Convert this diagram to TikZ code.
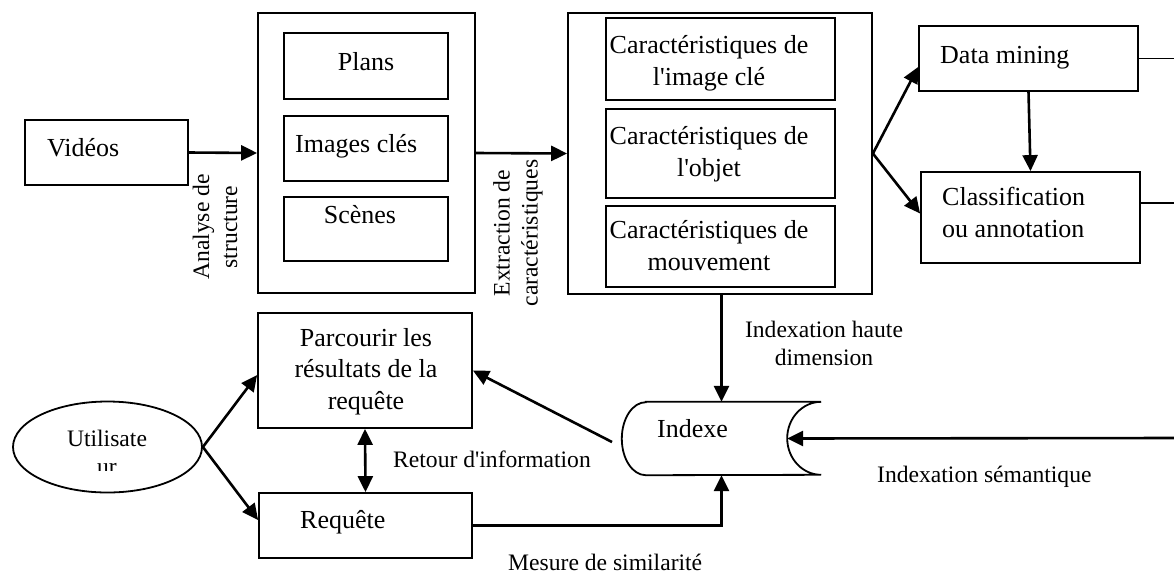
\documentclass[tikz,border=0pt]{standalone}
\usepackage{fontspec}
\setmainfont{Liberation Serif}[Ligatures=TeXOff]
\usetikzlibrary{arrows.meta,shapes.geometric,calc}

\tikzset{
  box/.style={draw, line width=1.8pt, inner sep=0pt, rectangle},
  big/.style={font=\fontsize{26}{31.5}\selectfont, inner sep=0pt},
  lab/.style={font=\fontsize{23.6}{28}\selectfont, inner sep=0pt},
  arr/.style={line width=2.6pt, -{Triangle[length=16pt,width=15pt]}},
  darr/.style={line width=2.6pt, {Triangle[length=16pt,width=15pt]}-{Triangle[length=16pt,width=15pt]}},
  plain/.style={line width=1.8pt},
}

\begin{document}
\begin{tikzpicture}[x=1pt,y=-1pt]
\useasboundingbox (0,0) rectangle (1174,574);

% --- acquisition and structure analysis
\node[box, minimum width=163, minimum height=65] (vid) at (106.5,152.5) {};
\node[big, anchor=base west] (vidT) at (47,156) {Vidéos};

\node[box, minimum width=217, minimum height=280] (grp1) at (366.5,153) {};
\node[box, minimum width=164, minimum height=66] (plans) at (366,66) {};
\node[big, anchor=base] (plansT) at (366,70) {Plans};
\node[box, minimum width=164, minimum height=65] (imgs) at (366,148.5) {};
\node[big, anchor=base west] (imgsT) at (295,152) {Images clés};
\node[box, minimum width=164, minimum height=64] (scenes) at (366,229) {};
\node[big, anchor=base] (scenesT) at (360,223) {Scènes};

% --- feature extraction (multi-line nodes: base = last baseline)
\node[box, minimum width=304, minimum height=281] (grp2) at (720,153.5) {};
\node[box, minimum width=229, minimum height=82] (fk) at (720.5,59) {};
\node[big, align=center, anchor=base] (fkT) at (709,85) {Caractéristiques de\\l'image clé};
\node[box, minimum width=229, minimum height=89] (fo) at (720.5,153.5) {};
\node[big, align=center, anchor=base] (foT) at (709,176) {Caractéristiques de\\l'objet};
\node[box, minimum width=229, minimum height=81] (fm) at (720.5,246.5) {};
\node[big, align=center, anchor=base] (fmT) at (709,270) {Caractéristiques de\\mouvement};

% --- semantic analysis
\node[box, minimum width=219, minimum height=65] (dm) at (1028.5,58.5) {};
\node[big, anchor=base west] (dmT) at (940,63) {Data mining};
\node[box, minimum width=219, minimum height=91] (cls) at (1030.5,217.5) {};
\node[big, align=left, anchor=base west] (clsT) at (942,237) {Classification\\ou annotation};

% --- user side
\node[box, minimum width=214, minimum height=115] (parc) at (365,370.5) {};
\node[big, align=center, anchor=base] (parcT) at (366,409) {Parcourir les\\résultats de la\\requête};
\node[box, minimum width=213, minimum height=65] (req) at (365.5,525.5) {};
\node[big, anchor=base west] (reqT) at (300,528) {Requête};

\node[draw, ellipse, line width=1.8pt, minimum width=189, minimum height=91, inner sep=0pt] (user) at (107.5,447) {};
\node[lab, anchor=base] (userT) at (107,446) {Utilisate};
\begin{scope}
  \clip (0,0) rectangle (220,470);
  \node[lab, anchor=base] (userT2) at (107,474) {ur};
\end{scope}

% --- index store
\node[minimum width=199, minimum height=73, inner sep=0pt] (idx) at (721.5,438.5) {};
\draw[plain] ([xshift=24pt]idx.north west) -- (idx.north east)
  arc[start angle=90, end angle=270, x radius=34pt, y radius=36.5pt]
  -- ([xshift=24pt]idx.south west)
  arc[start angle=270, end angle=90, x radius=24pt, y radius=36.5pt] -- cycle;
\node[big, anchor=base west] (idxT) at (657,437) {Indexe};
\coordinate (idxR) at ([xshift=-34pt]idx.east);
\coordinate (idxOut) at (612,442);
\coordinate (semIn) at (1174,438);
\coordinate (dmOut) at (1174,58.5);
\coordinate (clsOut) at (1174,203);

% --- connectors
\draw[arr] (vid.east) -- (grp1.west);
\draw[arr] (grp1.east) -- (grp2.west);
\draw[arr] (grp2.east) -- ($(dm.west)+(0,8.5)$);
\draw[arr] (grp2.east) -- ($(cls.west)+(0,-4)$);
\draw[arr] (dm.south) -- (cls.north);
\draw[plain] (dm.east) -- (dmOut);
\draw[plain] (cls.east |- clsOut) -- (clsOut);
\draw[arr] (idx.north |- grp2.south) -- (idx.north);
\draw[arr] (semIn) -- (idxR);
\draw[arr] (idxOut) -- (parc.east);
\draw[arr] (req.east) -| (idx.south);
\draw[darr] (parc.south) -- (req.north);
\draw[arr] (user.east) -- ($(parc.west)+(0,4.5)$);
\draw[arr] (user.east) -- ($(req.west)+(0,-5.5)$);

% --- connector labels
\node[lab, rotate=90, align=center] (anaT) at (215,227) {Analyse de\\structure};
\node[lab, rotate=90, align=center] (extT) at (518,233) {Extraction de\\caractéristiques};
\node[lab, align=center, anchor=base] (hautT) at (824,365) {Indexation haute\\dimension};
\node[lab, anchor=base west] (retT) at (393,467) {Retour d'information};
\node[lab, anchor=base west] (mesT) at (508,570) {Mesure de similarité};
\node[lab, anchor=base west] (semT) at (877,482) {Indexation sémantique};
\end{tikzpicture}
\end{document}
